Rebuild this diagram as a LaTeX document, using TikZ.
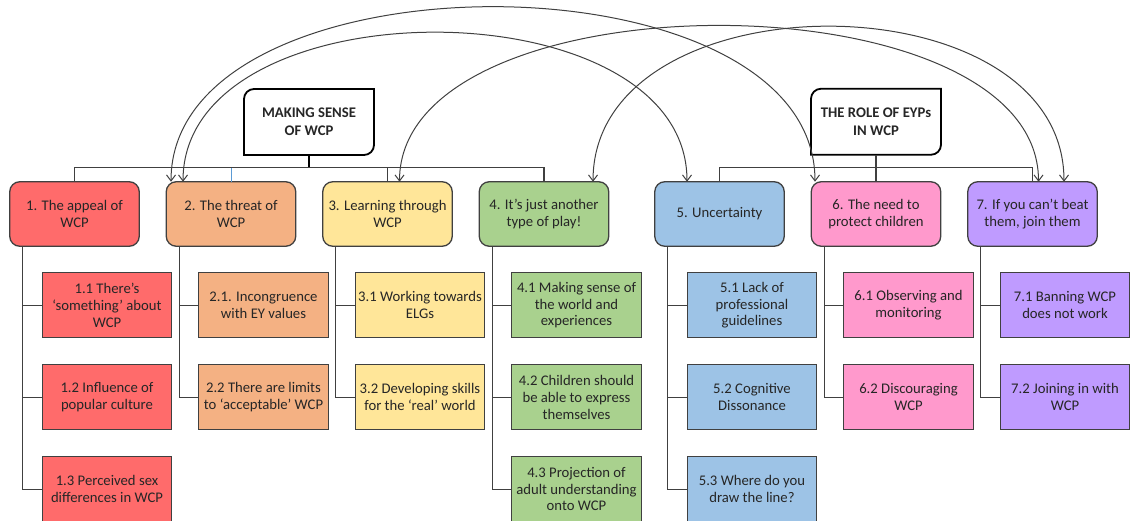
\documentclass[tikz,border=0pt]{standalone}
\usepackage{fontspec}
\setmainfont{Carlito}
\usepackage{tikz}
\usetikzlibrary{arrows.meta,positioning,calc}
\definecolor{appealred}{HTML}{FF6B6B}
\definecolor{threatorange}{HTML}{F4B183}
\definecolor{learnyellow}{HTML}{FFE699}
\definecolor{playgreen}{HTML}{A9D18E}
\definecolor{unsureblue}{HTML}{9DC3E6}
\definecolor{protectpink}{HTML}{FF99CC}
\definecolor{joinpurple}{HTML}{BF9BFF}
\definecolor{linegrey}{HTML}{404040}
\definecolor{textgrey}{HTML}{262626}
\definecolor{dropblue}{HTML}{5B9BD5}

\begin{document}
\begin{tikzpicture}[
            x=1pt, y=1pt,
            node distance=27pt,
            font=\fontsize{14.7}{16.7}\selectfont,
            text=textgrey,
            theme/.style={rectangle, rounded corners=10pt, draw=linegrey, line width=1.3pt, outer sep=0pt, minimum width=129.5pt, minimum height=64.5pt, align=center, inner sep=2pt},
            sub/.style={rectangle, draw=linegrey, line width=1.3pt, outer sep=0pt, minimum width=129.5pt, minimum height=65pt, align=center, inner sep=2pt},
            header/.style={outer sep=0pt, minimum width=130pt, minimum height=66pt, align=center, font=\fontsize{14.7}{17.7}\selectfont\bfseries},
            tree/.style={draw=linegrey, line width=1.3pt},
            link/.style={{Straight Barb[length=6pt,width=9pt]}-{Straight Barb[length=6pt,width=9pt]}, draw=linegrey, line width=1pt}
        ]
            \useasboundingbox (0,0) rectangle (1131,-521);

            % Themes
            \node[theme, fill=appealred] (t1) at (74.5,-214) {1. The appeal of\\WCP};
            \node[theme, fill=threatorange, right=of t1] (t2) {2. The threat of\\WCP};
            \node[theme, fill=learnyellow, right=of t2] (t3) {3. Learning through\\WCP};
            \node[theme, fill=playgreen, right=of t3] (t4) {4. It’s just another\\type of play!};
            \node[theme, fill=unsureblue, right=46pt of t4] (t5) {5. Uncertainty};
            \node[theme, fill=protectpink, right=of t5] (t6) {6. The need to\\protect children};
            \node[theme, fill=joinpurple, right=of t6] (t7) {7. If you can’t beat\\them, join them};

            % Headers
            \node[header] (h1) at (309,-122) {MAKING SENSE\\OF WCP};
            \node[header, above=of t6] (h2) {THE ROLE OF EYPs\\IN WCP};
            \draw[line width=1.8pt] ([xshift=10pt]h1.north west) -- (h1.north east) -- ([yshift=10pt]h1.south east) arc[start angle=0, end angle=-90, radius=10pt] -- (h1.south west) -- ([yshift=-10pt]h1.north west) arc[start angle=180, end angle=90, radius=10pt] -- cycle;
            \draw[line width=1.8pt] ([xshift=10pt]h2.north west) -- (h2.north east) -- ([yshift=10pt]h2.south east) arc[start angle=0, end angle=-90, radius=10pt] -- (h2.south west) -- ([yshift=-10pt]h2.north west) arc[start angle=180, end angle=90, radius=10pt] -- cycle;

            % Sub-themes 1
            \node[sub, fill=appealred, below right=26.5pt and 32.5pt of t1.south west] (s11) {1.1 There’s\\‘something’ about\\WCP};
            \node[sub, fill=appealred, below=of s11] (s12) {1.2 Influence of\\popular culture};
            \node[sub, fill=appealred, below=of s12] (s13) {1.3 Perceived sex\\differences in WCP};

            % Sub-themes 2
            \node[sub, fill=threatorange, below right=26.5pt and 32.5pt of t2.south west] (s21) {2.1. Incongruence\\with EY values};
            \node[sub, fill=threatorange, below=of s21] (s22) {2.2 There are limits\\to ‘acceptable’ WCP};

            % Sub-themes 3
            \node[sub, fill=learnyellow, below right=26.5pt and 32.5pt of t3.south west] (s31) {3.1 Working towards\\ELGs};
            \node[sub, fill=learnyellow, below=of s31] (s32) {3.2 Developing skills\\for the ‘real’ world};

            % Sub-themes 4
            \node[sub, fill=playgreen, below right=26.5pt and 32.5pt of t4.south west] (s41) {4.1 Making sense of\\the world and\\experiences};
            \node[sub, fill=playgreen, below=of s41] (s42) {4.2 Children should\\be able to express\\themselves};
            \node[sub, fill=playgreen, below=of s42] (s43) {4.3 Projection of\\adult understanding\\onto WCP};

            % Sub-themes 5
            \node[sub, fill=unsureblue, below right=26.5pt and 32.5pt of t5.south west] (s51) {5.1 Lack of\\professional\\guidelines};
            \node[sub, fill=unsureblue, below=of s51] (s52) {5.2 Cognitive\\Dissonance};
            \node[sub, fill=unsureblue, below=of s52] (s53) {5.3 Where do you\\draw the line?};

            % Sub-themes 6
            \node[sub, fill=protectpink, below right=26.5pt and 32.5pt of t6.south west] (s61) {6.1 Observing and\\monitoring};
            \node[sub, fill=protectpink, below=of s61] (s62) {6.2 Discouraging\\WCP};

            % Sub-themes 7
            \node[sub, fill=joinpurple, below right=26.5pt and 32.5pt of t7.south west] (s71) {7.1 Banning WCP\\does not work};
            \node[sub, fill=joinpurple, below=of s71] (s72) {7.2 Joining in with\\WCP};

            % Header connectors
            \coordinate (bar1) at ($(h1.south)+(0,-12.5)$);
            \coordinate (bar2) at ($(h2.south)+(0,-12.5)$);
            \draw[tree, draw=dropblue, line width=0.8pt] (bar1) -| (t2.north);
            \draw[tree] (t1.north) |- (bar1) -| (t4.north);
            \draw[tree] (bar1) -| (t3.north);
            \draw[tree, draw=black, line width=1.6pt] (h1.south) -- (bar1);
            \draw[tree] (t5.north) |- (bar2) -| (t7.north);
            \draw[tree] (h2.south) -- (t6.north);

            % Theme to sub-theme connectors
            \coordinate (c1) at ([xshift=13pt]t1.south west);
            \coordinate (c2) at ([xshift=13pt]t2.south west);
            \coordinate (c3) at ([xshift=13pt]t3.south west);
            \coordinate (c4) at ([xshift=13pt]t4.south west);
            \coordinate (c5) at ([xshift=13pt]t5.south west);
            \coordinate (c6) at ([xshift=13pt]t6.south west);
            \coordinate (c7) at ([xshift=13pt]t7.south west);
            \draw[tree] (c1) |- (s11.west);
            \draw[tree] (c1) |- (s12.west);
            \draw[tree] (c1) |- (s13.west);
            \draw[tree] (c2) |- (s21.west);
            \draw[tree] (c2) |- (s22.west);
            \draw[tree] (c3) |- (s31.west);
            \draw[tree] (c3) |- (s32.west);
            \draw[tree] (c4) |- (s41.west);
            \draw[tree] (c4) |- (s42.west);
            \draw[tree] (c4) |- (s43.west);
            \draw[tree] (c5) |- (s51.west);
            \draw[tree] (c5) |- (s52.west);
            \draw[tree] (c5) |- (s53.west);
            \draw[tree] (c6) |- (s61.west);
            \draw[tree] (c6) |- (s62.west);
            \draw[tree] (c7) |- (s71.west);
            \draw[tree] (c7) |- (s72.west);

            % Links between themes
            \draw[link] ([xshift=-60pt]t2.north) .. controls +(0,233) and +(0,233) .. ([xshift=-61pt]t6.north);
            \draw[link] ([xshift=-48pt]t2.north) .. controls +(0,199) and +(0,199) .. ([xshift=-32.5pt]t5.north);
            \draw[link] ([xshift=12pt]t3.north) .. controls +(0,208) and +(0,208) .. ([xshift=6pt]t7.north);
            \draw[link] ([xshift=49pt]t4.north) .. controls +(0,207) and +(0,207) .. ([xshift=31.5pt]t7.north);
        \end{tikzpicture}
\end{document}
